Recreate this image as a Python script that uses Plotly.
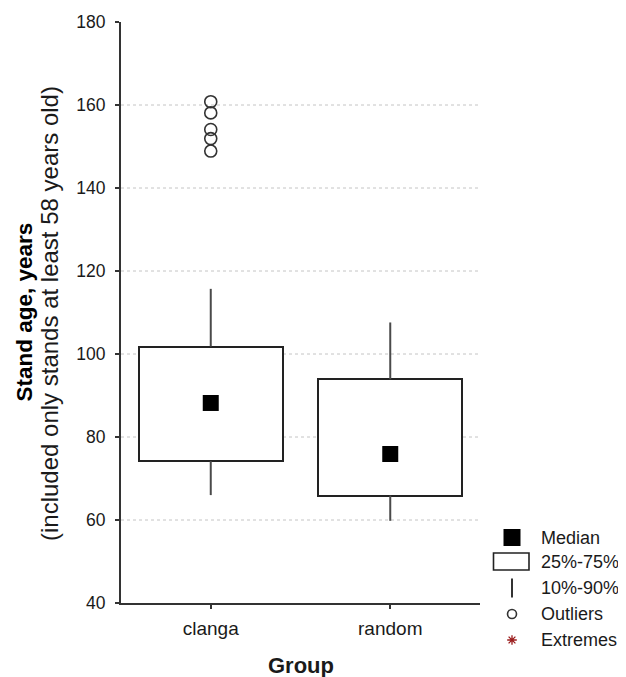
import plotly.graph_objects as go

# ---------------- data ----------------
groups = ["clanga", "random"]
q1 = [74.2, 65.9]
median = [88.2, 75.9]
q3 = [101.8, 93.9]
p10 = [66.0, 59.8]
p90 = [115.7, 107.6]
outlier_group = ["clanga", "clanga", "clanga", "clanga", "clanga"]
outlier_values = [160.8, 158.1, 154.1, 151.9, 148.9]
y_ticks = [40, 60, 80, 100, 120, 140, 160, 180]
grid_values = [60, 80, 100, 120, 140, 160]
legend_labels = ["Median", "25%-75%", "10%-90%", "Outliers", "Extremes"]

# ---------------- geometry helpers (window pixel coordinates) ----------------
OFF = 8                      # default page body margin
WIN_W, WIN_H = 626, 677
W, H = WIN_W - OFF, WIN_H - OFF
ML, MR, MT, MB = 121 - OFF, 0, 20 - OFF, 20
PW, PH = W - ML - MR, H - MT - MB
AREA_TOP = OFF + MT
AREA_BOT = OFF + H - MB


def px_x(wx):
    return (wx - OFF - ML) / PW


def px_y(wy):
    return (AREA_BOT - wy) / PH


FONT = "Arial, Liberation Sans, sans-serif"
INK = "#1a1a1a"

fig = go.Figure()

# boxes (25%-75%)
fig.add_trace(go.Bar(
    x=groups, y=[b - a for a, b in zip(q1, q3)], base=q1, width=0.8,
    marker=dict(color="white", line=dict(color="#222", width=2)),
    hoverinfo="skip", showlegend=False))

# whiskers (10%-90%)
wx, wy = [], []
for g, a, b, lo, hi in zip(groups, q1, q3, p10, p90):
    wx += [g, g, None, g, g, None]
    wy += [b, hi, None, lo, a, None]
fig.add_trace(go.Scatter(x=wx, y=wy, mode="lines",
                         line=dict(color="#4a4a4a", width=2),
                         showlegend=False, hoverinfo="skip"))

# medians
fig.add_trace(go.Scatter(x=groups, y=median, mode="markers",
                         marker=dict(symbol="square", size=16, color="black"),
                         showlegend=False))

# outliers
fig.add_trace(go.Scatter(x=outlier_group, y=outlier_values, mode="markers",
                         marker=dict(symbol="circle-open", size=12,
                                     color="#333", line=dict(width=1.6)),
                         showlegend=False))

# ---------------- legend (overlay axis in window pixel units) ----------------
LX0 = 485
leg_marker_x = 512
leg_text_x = 539
leg_y = [537.5, 561.5, 588, 614, 640]

shapes = []
for v in grid_values:
    shapes.append(dict(type="line", xref="x domain", x0=0, x1=1, yref="y",
                       y0=v, y1=v, layer="below",
                       line=dict(color="#c4c4c4", width=1, dash="dot")))
shapes.append(dict(type="rect", xref="x2", yref="y2",
                   x0=leg_marker_x - 8.5, x1=leg_marker_x + 8.5,
                   y0=leg_y[0] - 8.5, y1=leg_y[0] + 8.5,
                   fillcolor="black", line=dict(width=0)))
shapes.append(dict(type="rect", xref="x2", yref="y2",
                   x0=493.5, x1=529, y0=leg_y[1] - 8.5, y1=leg_y[1] + 8.5,
                   fillcolor="white", line=dict(color="#222", width=1.6)))
shapes.append(dict(type="line", xref="x2", yref="y2",
                   x0=leg_marker_x, x1=leg_marker_x,
                   y0=leg_y[2] - 9.5, y1=leg_y[2] + 9.5,
                   line=dict(color="#333", width=2)))

fig.add_trace(go.Scatter(x=[leg_marker_x], y=[leg_y[3]], xaxis="x2", yaxis="y2",
                         mode="markers",
                         marker=dict(symbol="circle-open", size=9, color="#333",
                                     line=dict(width=1.6)),
                         showlegend=False, hoverinfo="skip"))
fig.add_trace(go.Scatter(x=[leg_marker_x], y=[leg_y[4]], xaxis="x2", yaxis="y2",
                         mode="markers",
                         marker=dict(symbol="asterisk-open", size=8, color="#9b1c1c",
                                     line=dict(width=1.3, color="#9b1c1c")),
                         showlegend=False, hoverinfo="skip"))

annotations = []
for lbl, y in zip(legend_labels, leg_y):
    annotations.append(dict(text=lbl, xref="x2", yref="y2", x=leg_text_x, y=y,
                            xanchor="left", yanchor="middle", showarrow=False,
                            font=dict(family=FONT, size=18, color=INK)))

annotations.append(dict(text="<b>Stand age, years</b>", xref="paper", yref="paper",
                        x=px_x(24), y=px_y(312.5), textangle=-90,
                        xanchor="center", yanchor="middle", showarrow=False,
                        font=dict(family=FONT, size=22.5, color="black")))
annotations.append(dict(text="(included only stands at least 58 years old)",
                        xref="paper", yref="paper",
                        x=px_x(49), y=px_y(314), textangle=-90,
                        xanchor="center", yanchor="middle", showarrow=False,
                        font=dict(family=FONT, size=24, color=INK)))
annotations.append(dict(text="<b>Group</b>", xref="paper", yref="paper",
                        x=px_x(300.5), y=px_y(665), xanchor="center",
                        yanchor="middle", showarrow=False,
                        font=dict(family=FONT, size=22, color=INK)))

fig.update_layout(
    width=W, height=H,
    margin=dict(l=ML, r=MR, t=MT, b=MB),
    paper_bgcolor="white", plot_bgcolor="white",
    font=dict(family=FONT, color=INK),
    showlegend=False,
    bargap=0,
    xaxis=dict(domain=[0, px_x(480)], type="category",
               categoryorder="array", categoryarray=groups,
               range=[-0.5, 1.5], anchor="y",
               showline=True, linecolor="#333", linewidth=2,
               ticks="outside", ticklen=4, tickwidth=2, tickcolor="#333",
               tickfont=dict(size=19, color=INK), ticklabelstandoff=3,
               showgrid=False, zeroline=False, fixedrange=True),
    yaxis=dict(domain=[px_y(603), px_y(22)], range=[40, 180],
               tickvals=y_ticks, anchor="x",
               showline=True, linecolor="#333", linewidth=2,
               ticks="outside", ticklen=4, tickwidth=2, tickcolor="#333",
               tickfont=dict(size=17.5, color=INK), ticklabelstandoff=6,
               showgrid=False, zeroline=False, fixedrange=True),
    xaxis2=dict(domain=[px_x(LX0), 1], range=[LX0, OFF + W], anchor="y2",
                visible=False, fixedrange=True),
    yaxis2=dict(domain=[0, 1], range=[AREA_BOT, AREA_TOP], anchor="x2",
                visible=False, fixedrange=True),
    shapes=shapes,
    annotations=annotations,
)

fig.write_html("out.html")
